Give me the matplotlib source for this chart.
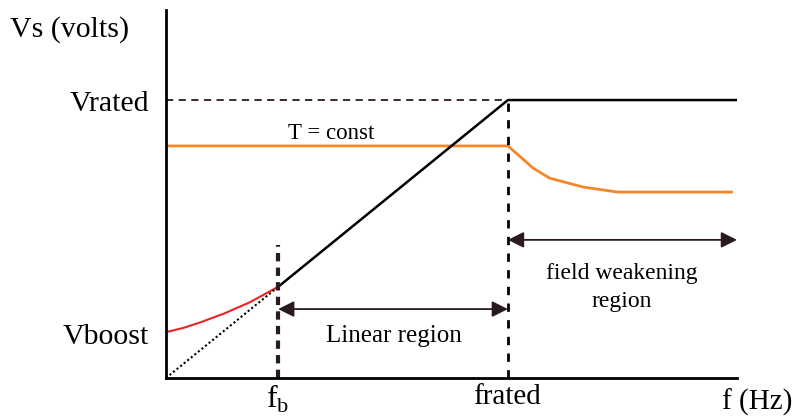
import matplotlib.pyplot as plt

plt.rcParams['font.family'] = ['Liberation Serif', 'DejaVu Serif']
plt.rcParams['mathtext.fontset'] = 'custom'
plt.rcParams['mathtext.rm'] = 'Liberation Serif'

# frequencies in Hz, voltage in per-unit of Vrated
f_b = 16.4
f_rated = 50.0
f_max = 83.5
v_rated = 1.0
v_boost = 0.165

# boosted voltage below f_b
boost_f = [0, 2.5, 5, 8.5, 12.3, 16.4]
boost_v = [0.165, 0.18, 0.2, 0.232, 0.273, 0.328]

# torque capability curve
torque_f = [0, 50, 53.7, 56.1, 61, 66, 82.9]
torque_v = [0.835, 0.835, 0.755, 0.719, 0.687, 0.669, 0.669]

# V/f line: linear up to f_rated, then flat
vf_f = [f_b, f_rated, f_max]
vf_v = [f_b / f_rated * v_rated, v_rated, v_rated]

dark = '#2a1a20'

fig = plt.figure(figsize=(8.01, 4.19), dpi=100)
ax = fig.add_axes([166 / 801, 1 - 378 / 419, 571 / 801, 368 / 419])
ax.set_xlim(0, f_max)
ax.set_ylim(0, 1.324)
for s in ['top', 'right']:
    ax.spines[s].set_visible(False)
for s in ['left', 'bottom']:
    ax.spines[s].set_linewidth(2)
    ax.spines[s].set_color('black')
ax.set_xticks([])
ax.set_yticks([])

ax.plot(torque_f, torque_v, color='#f5872a', lw=2, solid_capstyle='butt')
ax.plot(boost_f, boost_v, color='#ee2222', lw=1.5)
ax.plot([0, f_b], [0, f_b / f_rated * v_rated], color='black', lw=1.5, ls=(0, (1, 1.2)))
ax.plot(vf_f, vf_v, color='black', lw=1.8)

ax.plot([0, f_rated], [v_rated, v_rated], color=dark, lw=1.3, ls=(0, (4, 3)))
ax.plot([f_rated, f_rated], [0, v_rated], color='black', lw=2, ls=(0, (3, 3)))
ax.plot([f_b, f_b], [0, 0.478], color=dark, lw=3, ls=(0, (2, 1.5)))

arrow = dict(arrowstyle='<|-|>', color=dark, lw=1.3, mutation_scale=24, shrinkA=0, shrinkB=0)
ax.annotate('', xy=(f_b, 0.248), xytext=(f_rated, 0.248), arrowprops=arrow)
ax.annotate('', xy=(f_rated, 0.497), xytext=(f_max, 0.497), arrowprops=arrow)

ax.text(33.3, 0.15, 'Linear region', ha='center', va='center', fontsize=18)
ax.text(66.6, 0.325, 'field weakening\nregion', ha='center', va='center', fontsize=17,
        linespacing=1.4)
ax.text(24.2, 0.88, 'T = const', ha='center', va='center', fontsize=16.5)

fig.text(149 / 801, 1 - 104 / 419, 'Vrated', ha='right', va='center', fontsize=21.5)
fig.text(149 / 801, 1 - 337 / 419, 'Vboost', ha='right', va='center', fontsize=21.5)
fig.text(10 / 801, 1 - 30 / 419, 'Vs (volts)', ha='left', va='center', fontsize=21.5)
fig.text(278 / 801, 1 - 399 / 419, r'$\mathrm{f}_\mathrm{b}$', ha='center', va='center', fontsize=23)
fig.text(507 / 801, 1 - 397 / 419, 'frated', ha='center', va='center', fontsize=21)
fig.text(757 / 801, 1 - 402 / 419, 'f (Hz)', ha='center', va='center', fontsize=21)

fig.savefig('out.png', dpi=100)
